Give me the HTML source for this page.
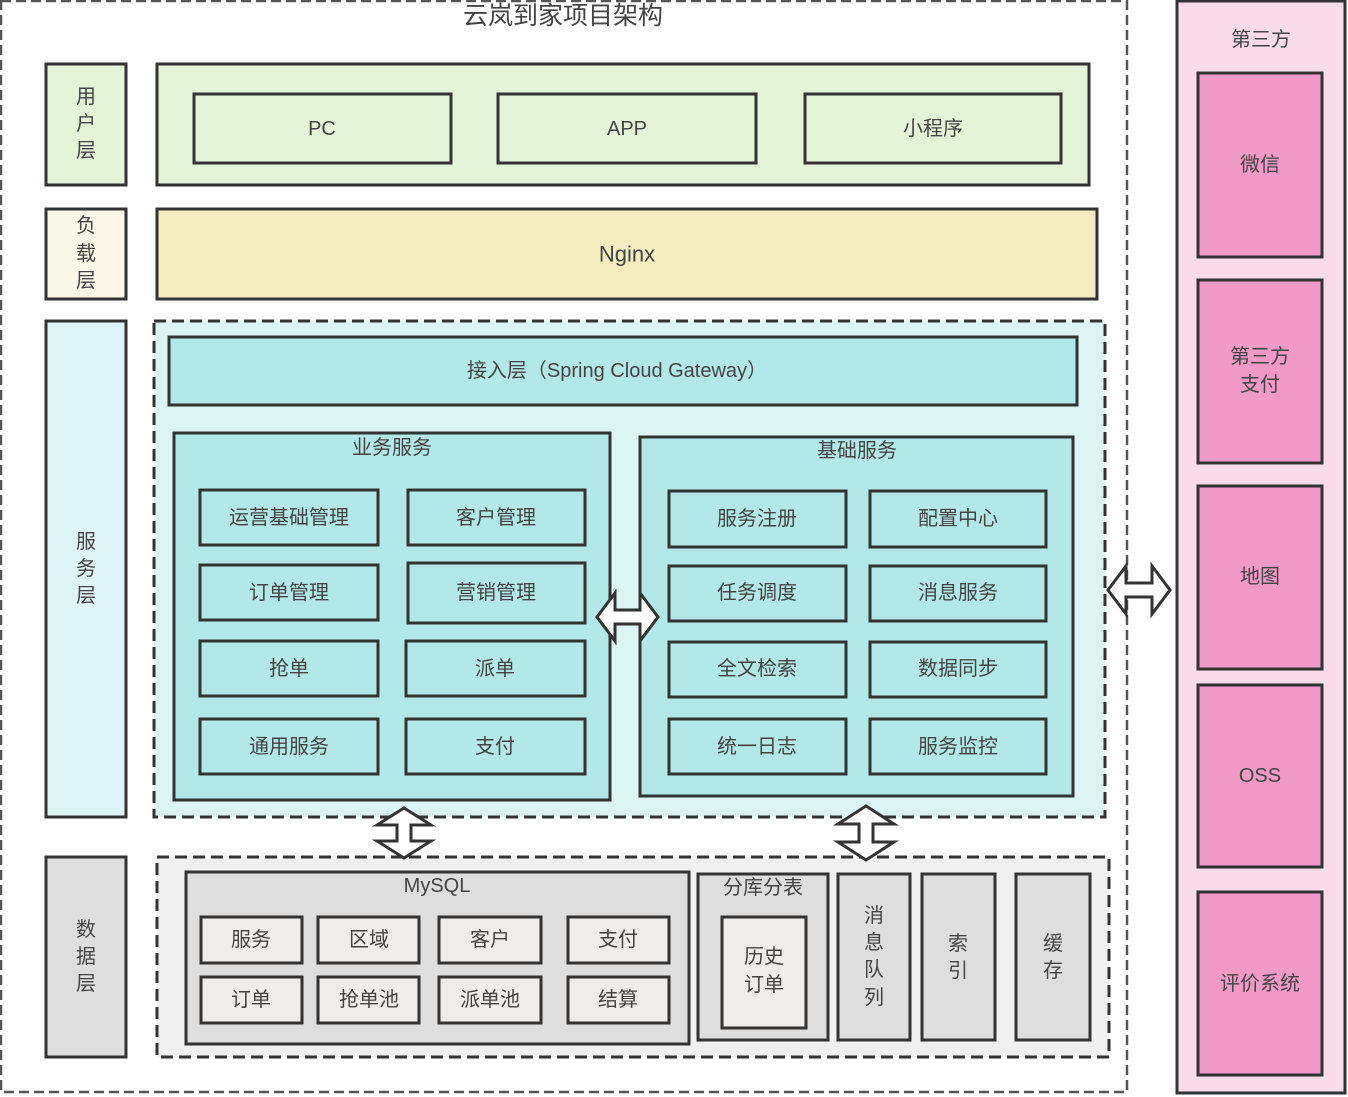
<!DOCTYPE html>
<html><head><meta charset="utf-8"><style>
html,body{margin:0;padding:0;background:#fff;}
svg{display:block;}
text{font-family:"Liberation Sans","Noto Sans CJK SC",sans-serif;fill:#444;font-size:20px;text-anchor:middle;dominant-baseline:central;}
.b{stroke:#333;stroke-width:3;}
.d{stroke:#333;stroke-width:3;stroke-dasharray:12,6;}
</style></head><body>
<svg width="1348" height="1097" viewBox="0 0 1348 1097" xmlns="http://www.w3.org/2000/svg">
<rect x="1" y="1" width="1126" height="1091" fill="#fff" stroke="#555" stroke-width="2.5" stroke-dasharray="10,5"/>
<text x="563" y="16" style="font-size:25px" fill="#555">云岚到家项目架构</text>

<rect class="b" x="46" y="64" width="80" height="121" fill="#e3f4d8"/>
<text x="86" y="97">用</text><text x="86" y="124">户</text><text x="86" y="151">层</text>
<rect class="b" x="46" y="209" width="80" height="90" fill="#fbf8ea"/>
<text x="86" y="226">负</text><text x="86" y="254">载</text><text x="86" y="281">层</text>
<rect class="b" x="46" y="321" width="80" height="496" fill="#dff4f6"/>
<text x="86" y="542">服</text><text x="86" y="569">务</text><text x="86" y="596">层</text>
<rect class="b" x="46" y="857" width="80" height="200" fill="#dedede"/>
<text x="86" y="930">数</text><text x="86" y="957">据</text><text x="86" y="984">层</text>

<rect class="b" x="157" y="64" width="932" height="121" fill="#e3f4d8"/>
<rect class="b" x="194" y="94" width="257" height="69" fill="#e3f4d8"/><text x="322" y="129">PC</text>
<rect class="b" x="498" y="94" width="258" height="69" fill="#e3f4d8"/><text x="627" y="129">APP</text>
<rect class="b" x="805" y="94" width="256" height="69" fill="#e3f4d8"/><text x="933" y="129">小程序</text>

<rect class="b" x="157" y="209" width="940" height="90" fill="#f5ecc0"/><text x="627" y="254" style="font-size:22px">Nginx</text>

<rect class="d" x="154" y="321" width="951" height="496" fill="#dcf4f4"/>
<rect class="b" x="169" y="337" width="908" height="68" fill="#b3e8e8"/>
<text x="617" y="371">接入层（Spring Cloud Gateway）</text>

<rect class="b" x="174" y="433" width="436" height="367" fill="#b3e8e8"/>
<text x="392" y="448">业务服务</text>
<g fill="#b3e8e8">
<rect class="b" x="200" y="490" width="178" height="55"/><text x="289" y="518">运营基础管理</text>
<rect class="b" x="408" y="490" width="177" height="55"/><text x="496" y="518">客户管理</text>
<rect class="b" x="200" y="565" width="178" height="55"/><text x="289" y="593">订单管理</text>
<rect class="b" x="408" y="563" width="177" height="60"/><text x="496" y="593">营销管理</text>
<rect class="b" x="200" y="641" width="178" height="55"/><text x="289" y="669">抢单</text>
<rect class="b" x="406" y="641" width="179" height="55"/><text x="495" y="669">派单</text>
<rect class="b" x="200" y="719" width="178" height="55"/><text x="289" y="747">通用服务</text>
<rect class="b" x="406" y="719" width="179" height="55"/><text x="495" y="747">支付</text>
</g>

<rect class="b" x="640" y="437" width="433" height="359" fill="#b3e8e8"/>
<text x="857" y="451">基础服务</text>
<g fill="#b3e8e8">
<rect class="b" x="669" y="491" width="177" height="56"/><text x="757" y="519">服务注册</text>
<rect class="b" x="870" y="491" width="176" height="56"/><text x="958" y="519">配置中心</text>
<rect class="b" x="669" y="566" width="177" height="55"/><text x="757" y="593">任务调度</text>
<rect class="b" x="870" y="566" width="176" height="55"/><text x="958" y="593">消息服务</text>
<rect class="b" x="669" y="642" width="177" height="55"/><text x="757" y="669">全文检索</text>
<rect class="b" x="870" y="642" width="176" height="55"/><text x="958" y="669">数据同步</text>
<rect class="b" x="669" y="719" width="177" height="55"/><text x="757" y="747">统一日志</text>
<rect class="b" x="870" y="719" width="176" height="55"/><text x="958" y="747">服务监控</text>
</g>

<rect class="d" x="157" y="857" width="952" height="200" fill="#f0f0f0"/>
<rect class="b" x="186" y="872" width="503" height="172" fill="#dedede"/>
<text x="437" y="886">MySQL</text>
<g fill="#efecea">
<rect class="b" x="201" y="917" width="101" height="46"/><text x="251" y="940">服务</text>
<rect class="b" x="318" y="917" width="101" height="46"/><text x="369" y="940">区域</text>
<rect class="b" x="439" y="917" width="102" height="46"/><text x="490" y="940">客户</text>
<rect class="b" x="568" y="917" width="101" height="46"/><text x="618" y="940">支付</text>
<rect class="b" x="201" y="977" width="101" height="46"/><text x="251" y="1000">订单</text>
<rect class="b" x="318" y="977" width="101" height="46"/><text x="369" y="1000">抢单池</text>
<rect class="b" x="439" y="977" width="102" height="46"/><text x="490" y="1000">派单池</text>
<rect class="b" x="568" y="977" width="101" height="46"/><text x="618" y="1000">结算</text>
</g>
<rect class="b" x="698" y="874" width="130" height="166" fill="#dedede"/>
<text x="763" y="888">分库分表</text>
<rect class="b" x="722" y="917" width="84" height="111" fill="#efecea"/>
<text x="764" y="957">历史</text><text x="764" y="985">订单</text>
<rect class="b" x="838" y="874" width="72" height="166" fill="#dedede"/>
<text x="874" y="916">消</text><text x="874" y="943">息</text><text x="874" y="970">队</text><text x="874" y="998">列</text>
<rect class="b" x="922" y="874" width="73" height="166" fill="#dedede"/>
<text x="958" y="944">索</text><text x="958" y="971">引</text>
<rect class="b" x="1016" y="874" width="74" height="166" fill="#dedede"/>
<text x="1053" y="944">缓</text><text x="1053" y="971">存</text>

<rect class="b" x="1177" y="1" width="168" height="1092" fill="#fadbe9"/>
<text x="1261" y="40">第三方</text>
<g fill="#f19ac8">
<rect class="b" x="1198" y="73" width="124" height="184"/><text x="1260" y="165">微信</text>
<rect class="b" x="1198" y="280" width="124" height="183"/><text x="1260" y="357">第三方</text><text x="1260" y="385">支付</text>
<rect class="b" x="1198" y="486" width="124" height="183"/><text x="1260" y="577">地图</text>
<rect class="b" x="1198" y="685" width="124" height="182"/><text x="1260" y="776">OSS</text>
<rect class="b" x="1198" y="892" width="124" height="183"/><text x="1260" y="984">评价系统</text>
</g>

<g fill="#fff" stroke="#333" stroke-width="3" stroke-linejoin="miter">
<polygon points="597,617 615,593 615,610 640,610 640,593 658,617 640,641 640,624 615,624 615,641"/>
<polygon points="1108,590 1126,566 1126,583 1152,583 1152,566 1170,590 1152,614 1152,597 1126,597 1126,614"/>
<polygon points="404,808 431,825 411,825 411,841 431,841 404,858 377,841 397,841 397,825 377,825"/>
<polygon points="866,806 894,824 873,824 873,842 894,842 866,860 838,842 859,842 859,824 838,824"/>
</g>
</svg>
</body></html>
